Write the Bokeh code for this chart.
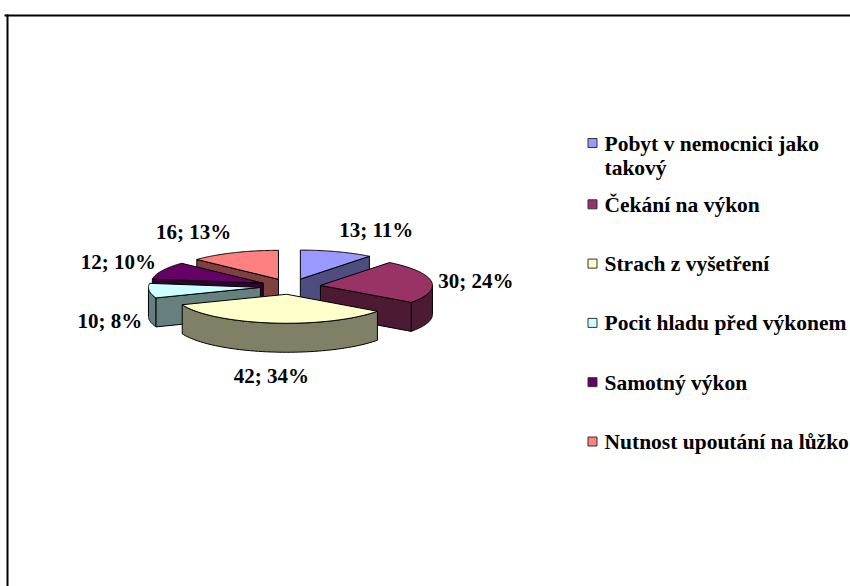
import numpy as np
from bokeh.plotting import figure
from bokeh.models import Range1d, ColumnDataSource
from bokeh.core.properties import value
from bokeh.embed import file_html
from bokeh.resources import INLINE

# --- data -------------------------------------------------------------
categories = [
    "Pobyt v nemocnici jako takový",
    "Čekání na výkon",
    "Strach z vyšetření",
    "Pocit hladu před výkonem",
    "Samotný výkon",
    "Nutnost upoutání na lůžko",
]
legend_lines = [
    ["Pobyt v nemocnici jako", "takový"],
    ["Čekání na výkon"],
    ["Strach z vyšetření"],
    ["Pocit hladu před výkonem"],
    ["Samotný výkon"],
    ["Nutnost upoutání na lůžko"],
]
counts = [13, 30, 42, 10, 12, 16]
top_colors = ["#9999FF", "#993366", "#FFFFCC", "#CCFFFF", "#660066", "#FF8080"]
side_colors = ["#4D4D80", "#4D1A33", "#808066", "#668080", "#330033", "#804040"]

# --- layout -----------------------------------------------------------
W, H = 850, 586
CX, CY = 290.0, 286.0      # pie centre (pixels, y down)
RX, RY = 112.0, 29.0       # ellipse radii of the top face
DEPTH = 29.0               # thickness of the pie
EXPLODE = 0.27             # slice offset as fraction of the radii
FONT = value("Liberation Serif")
LABEL_SIZE = "21px"
LEGEND_SIZE = "21.5px"

total = float(sum(counts))
fracs = np.array(counts) / total
ends = np.cumsum(fracs) * 360.0
starts = ends - fracs * 360.0
mids = (starts + ends) / 2.0


def rim(tx, ty, deg, dy=0.0):
    t = np.radians(deg)
    return tx + RX * np.sin(t), ty - RY * np.cos(t) + dy


xs, ys, fills = [], [], []

# back-to-front painting order
order = sorted(range(len(counts)), key=lambda i: -np.cos(np.radians(mids[i])))
tips = {}
for i in order:
    s, e, m = starts[i], ends[i], mids[i]
    mr = np.radians(m)
    tx = CX + EXPLODE * RX * np.sin(mr)
    ty = CY - EXPLODE * RY * np.cos(mr)
    tips[i] = (tx, ty)

    # outer wall (front half only)
    a, b = max(s, 90.0), min(e, 270.0)
    if a < b:
        th = np.linspace(a, b, 60)
        ux, uy = rim(tx, ty, th)
        lx, ly = rim(tx, ty, th[::-1], DEPTH)
        xs.append(list(ux) + list(lx))
        ys.append(list(uy) + list(ly))
        fills.append(side_colors[i])
    # radial cut faces facing the viewer
    for ang, visible in ((s, np.sin(np.radians(s)) < -1e-6),
                         (e, np.sin(np.radians(e)) > 1e-6)):
        if visible:
            rx_, ry_ = rim(tx, ty, ang)
            xs.append([tx, rx_, rx_, tx])
            ys.append([ty, ry_, ry_ + DEPTH, ty + DEPTH])
            fills.append(side_colors[i])
    # top face
    th = np.linspace(s, e, 80)
    ux, uy = rim(tx, ty, th)
    xs.append([tx] + list(ux))
    ys.append([ty] + list(uy))
    fills.append(top_colors[i])

p = figure(width=W, height=H, x_range=Range1d(0, W), y_range=Range1d(H, 0),
           toolbar_location=None, output_backend="svg", min_border=0)
p.axis.visible = False
p.grid.visible = False
p.outline_line_color = None
p.background_fill_color = "white"
p.border_fill_color = "white"

# chart frame (top and left edges)
p.line([4, W], [15, 15], line_color="black", line_width=2)
p.line([7, 7], [14, H], line_color="black", line_width=2)

p.patches("xs", "ys", source=ColumnDataSource(dict(xs=xs, ys=ys, fill=fills)),
          fill_color="fill", line_color="black", line_width=1)

# --- data labels ------------------------------------------------------
LAB_AX, LAB_AY, LAB_DY = 119.0, 55.0, 15.0
lx, ly, ltxt, lalign, lbase = [], [], [], [], []
for i, v in enumerate(counts):
    mr = np.radians(mids[i])
    sn, cs = np.sin(mr), np.cos(mr)
    tx, ty = tips[i]
    lx.append(tx + LAB_AX * sn)
    ly.append(ty - LAB_AY * cs + LAB_DY)
    ltxt.append(f"{v}; {round(100 * v / total)}%")
    lalign.append("left" if sn > 0.25 else ("right" if sn < -0.25 else "center"))
    lbase.append("bottom" if cs > 0 else "top")
p.text(x="x", y="y", text="t", text_align="a", text_baseline="b",
       source=ColumnDataSource(dict(x=lx, y=ly, t=ltxt, a=lalign, b=lbase)),
       text_font=FONT, text_font_style="bold", text_font_size=LABEL_SIZE,
       text_color="black")

# --- legend -----------------------------------------------------------
LEG_SQ_X, LEG_TXT_X = 592.0, 604.0
LINE_H, STEP = 24.0, 59.3
bases = [150.0]
nxt = 211.3
for k in range(1, len(legend_lines)):
    bases.append(nxt)
    nxt += STEP
tx_, ty_, tt_ = [], [], []
sq_x, sq_y = [], []
for k, lines in enumerate(legend_lines):
    for j, line in enumerate(lines):
        tx_.append(LEG_TXT_X)
        ty_.append(bases[k] - 7.0 + j * LINE_H)
        tt_.append(line)
    sq_x.append(LEG_SQ_X)
    sq_y.append(bases[k] - 7.5)
p.rect(x=sq_x, y=sq_y, width=9, height=9, fill_color=top_colors,
       line_color="#333333", line_width=1)
p.text(x=tx_, y=ty_, text=tt_, text_align="left", text_baseline="alphabetic",
       text_font=FONT, text_font_style="bold", text_font_size=LEGEND_SIZE,
       text_color="black")

open("out.html", "w").write(file_html(p, INLINE))
